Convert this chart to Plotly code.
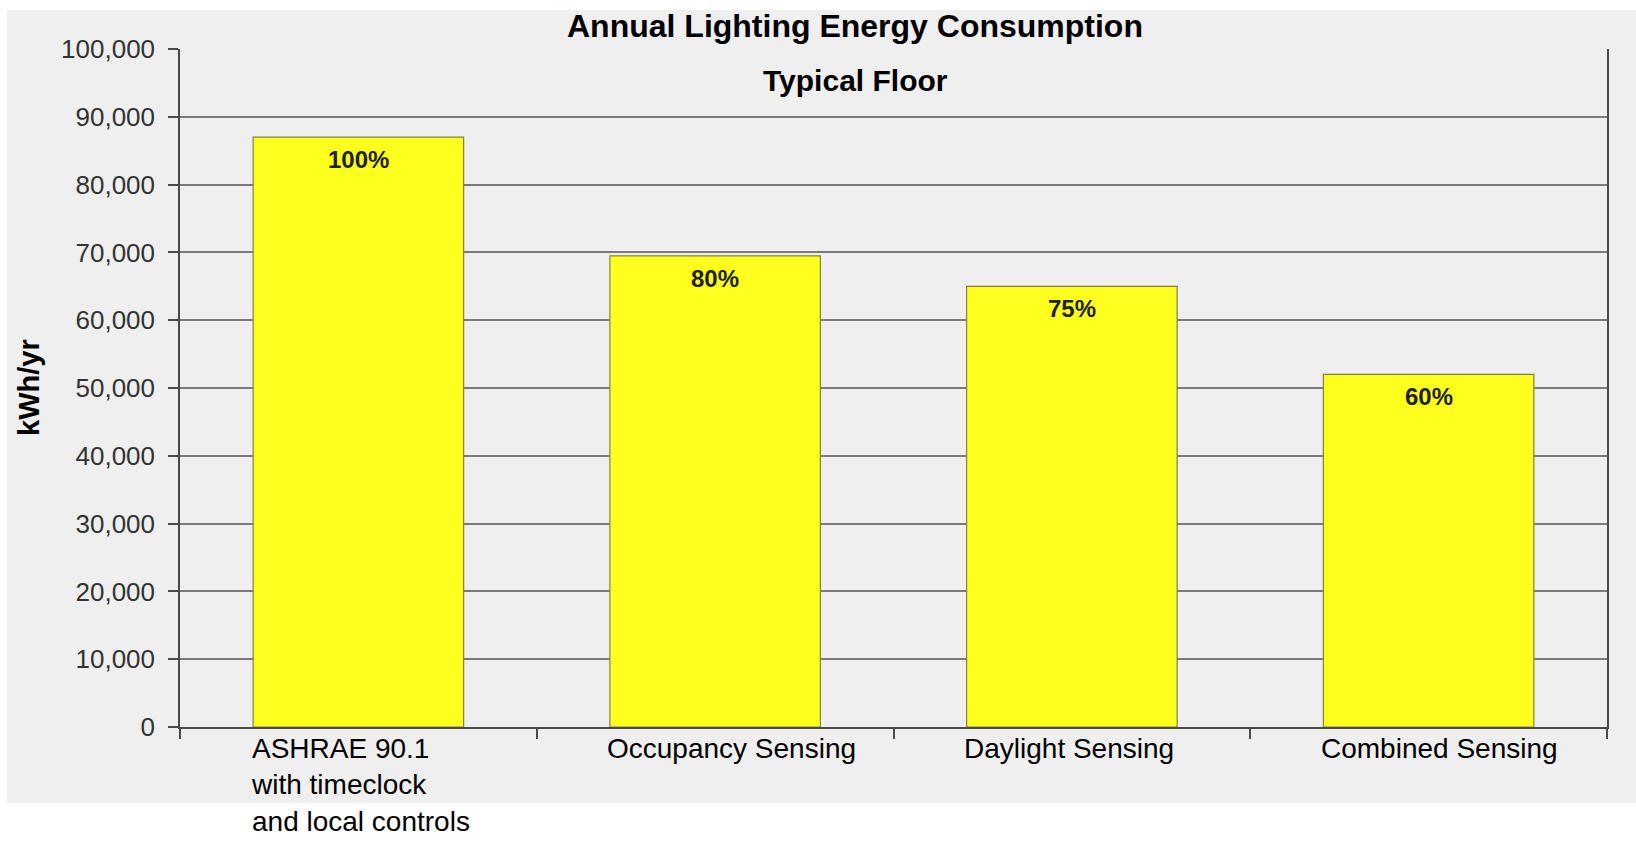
import plotly.graph_objects as go

# ---- data ----
categories = ["ASHRAE 90.1<br>with timeclock<br>and local controls",
              "Occupancy Sensing", "Daylight Sensing", "Combined Sensing"]
values = [87000, 69500, 65000, 52000]
pct_labels = ["100%", "80%", "75%", "60%"]
y_ticks = [0, 10000, 20000, 30000, 40000, 50000, 60000, 70000, 80000, 90000, 100000]
title_text = "Annual Lighting Energy Consumption"
subtitle_text = "Typical Floor"
y_title = "kWh/yr"

W, H = 1636, 842
L, R, T, B = 180, 29, 49, 115
pw, ph = W - L - R, H - T - B

def px_x(p):
    return (p - L) / pw

def px_y(p):
    return (H - B - p) / ph

FONT = "Liberation Sans, Arial, sans-serif"
xs = list(range(len(categories)))

fig = go.Figure()
fig.add_trace(go.Bar(
    x=xs, y=values, width=0.59,
    marker=dict(color="#ffff1e", line=dict(color="#858040", width=1.2)),
    hoverinfo="skip", showlegend=False,
))

annotations = []
# percentage labels inside bars
for i, (v, t) in enumerate(zip(values, pct_labels)):
    annotations.append(dict(x=i, y=v, xref="x", yref="y", text="<b>%s</b>" % t,
                            showarrow=False, yanchor="top", xanchor="center", yshift=-7,
                            font=dict(family=FONT, size=24, color="#222222")))
# category labels, left aligned at bar left edges
for i, c in enumerate(categories):
    annotations.append(dict(x=i - 0.305, y=0, xref="x", yref="paper", text=c,
                            showarrow=False, xanchor="left", yanchor="top", yshift=-5,
                            align="left", borderpad=0,
                            font=dict(family=FONT, size=28, color="#000000")))
# title / subtitle
annotations.append(dict(x=px_x(855), y=px_y(26), xref="paper", yref="paper",
                        text="<b>%s</b>" % title_text, showarrow=False,
                        xanchor="center", yanchor="middle",
                        font=dict(family=FONT, size=32, color="#000000")))
annotations.append(dict(x=px_x(855), y=px_y(80), xref="paper", yref="paper",
                        text="<b>%s</b>" % subtitle_text, showarrow=False,
                        xanchor="center", yanchor="middle",
                        font=dict(family=FONT, size=30, color="#000000")))
# y axis title
annotations.append(dict(x=px_x(29), y=0.5, xref="paper", yref="paper",
                        text="<b>%s</b>" % y_title, showarrow=False, textangle=-90,
                        xanchor="center", yanchor="middle",
                        font=dict(family=FONT, size=29, color="#000000")))

fig.update_layout(
    width=W, height=H,
    margin=dict(l=L, r=R, t=T, b=B, pad=0),
    paper_bgcolor="#ffffff",
    plot_bgcolor="rgba(0,0,0,0)",
    bargap=0.41,
    annotations=annotations,
    shapes=[dict(type="rect", xref="paper", yref="paper", layer="below",
                 x0=px_x(7), x1=px_x(W), y0=px_y(803), y1=px_y(10),
                 fillcolor="#efefef", line=dict(width=0))],
    xaxis=dict(
        range=[-0.5, len(categories) - 0.5],
        tickmode="array", tickvals=[i - 0.5 for i in range(len(categories) + 1)],
        showticklabels=False, ticks="outside", ticklen=10, tickcolor="#4a4a4a",
        tickwidth=1.5,
        showline=True, linecolor="#4a4a4a", linewidth=1.5,
        showgrid=False, zeroline=False,
    ),
    yaxis=dict(
        range=[0, 100000], tickvals=y_ticks, tickformat=",",
        ticks="outside", ticklen=10, tickcolor="#4a4a4a", tickwidth=1.5,
        ticklabelstandoff=8,
        tickfont=dict(family=FONT, size=26, color="#333333"),
        showline=True, linecolor="#4a4a4a", linewidth=1.5, mirror=True,
        showgrid=True, gridcolor="#7a7a7a", gridwidth=1.5, zeroline=False,
    ),
)

fig.write_html("out.html")
